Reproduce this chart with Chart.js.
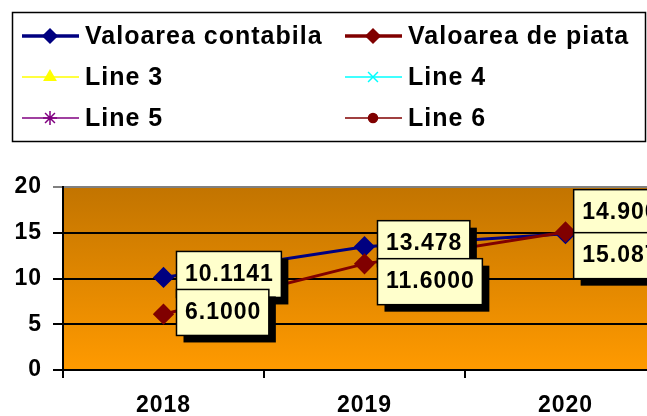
<!DOCTYPE html>
<html>
<head>
<meta charset="utf-8">
<script src="https://cdn.jsdelivr.net/npm/chart.js@4/dist/chart.umd.min.js"></script>
<style>
  html, body { margin: 0; padding: 0; background: #fff; overflow: hidden; }
  #grafico { display: block; }
</style>
</head>
<body>
<canvas id="grafico" width="680" height="416"></canvas>
<script>
// Datos
const anios = ['2018', '2019', '2020'];
const valoareaContabila = [10.1141, 13.478, 14.9];
const valoareaPiata = [6.1, 11.6, 15.087];
const etiquetasContabila = ['10.1141', '13.478', '14.900'];
const etiquetasPiata = ['6.1000', '11.6000', '15.087'];
const ticksY = [0, 5, 10, 15, 20];

const FUENTE = '"Liberation Sans", Arial, sans-serif';

// Espaciado de letras algo mas ancho, como en el original
// (el canvas pierde el estado al redimensionar, por eso se pone antes de medir y de pintar)
const espaciado = {
  id: 'espaciado',
  beforeUpdate(chart) { chart.ctx.letterSpacing = '1px'; },
  beforeDraw(chart) { chart.ctx.letterSpacing = '1px'; }
};

// Fondo degradado del area de trazado
const fondo = {
  id: 'fondo',
  beforeDraw(chart) {
    const { ctx, chartArea: a } = chart;
    const g = ctx.createLinearGradient(0, a.top, 0, a.bottom);
    g.addColorStop(0, '#c27400');
    g.addColorStop(1, '#ff9a00');
    ctx.save();
    ctx.fillStyle = g;
    ctx.fillRect(a.left, a.top, a.right - a.left, a.bottom - a.top);
    ctx.restore();
  }
};

// Leyenda en dos columnas con recuadro
const leyenda = {
  id: 'leyenda',
  afterDraw(chart) {
    const ctx = chart.ctx;
    ctx.save();
    ctx.letterSpacing = '1px';
    ctx.lineWidth = 1.5;
    ctx.strokeStyle = '#000';
    ctx.strokeRect(12.5, 12.5, 633, 129);
    ctx.font = 'bold 25px ' + FUENTE;
    ctx.textBaseline = 'middle';
    chart.data.datasets.forEach((ds, i) => {
      const x0 = i % 2 ? 345 : 22;
      const y = 36 + Math.floor(i / 2) * 41;
      ctx.strokeStyle = ds.borderColor;
      ctx.lineWidth = ds.borderWidth > 2 ? 3.5 : 1.5;
      ctx.beginPath();
      ctx.moveTo(x0, y);
      ctx.lineTo(x0 + 57, y);
      ctx.stroke();
      ctx.fillStyle = ds.backgroundColor;
      ctx.lineWidth = 1.5;
      Chart.helpers.drawPoint(ctx, { pointStyle: ds.pointStyle, radius: ds.radioLeyenda, borderWidth: 1.5 }, x0 + 28, y);
      ctx.fillStyle = '#000';
      ctx.fillText(ds.label, x0 + 63, y + 1);
    });
    ctx.restore();
  }
};

// Etiquetas de datos en cajas amarillas con sombra
const etiquetas = {
  id: 'etiquetas',
  afterDatasetsDraw(chart) {
    const { ctx, chartArea: a } = chart;
    const m0 = chart.getDatasetMeta(0);
    const m1 = chart.getDatasetMeta(1);
    ctx.save();
    ctx.letterSpacing = '1px';
    ctx.font = 'bold 23px ' + FUENTE;
    ctx.textAlign = 'center';
    ctx.textBaseline = 'middle';
    const alto = 46;

    const caja = (texto, x, top) => {
      const w = ctx.measureText(texto).width + 16;
      let left = x + 13;
      let fuera = false;
      if (left + w > a.right) { left = a.right - w; fuera = true; }
      return { texto, left, top, w, fuera };
    };
    const pintar = (c) => {
      ctx.fillStyle = '#000';
      ctx.fillRect(c.left + 7, c.top + 7, c.w, alto);
      ctx.fillStyle = '#ffffcc';
      ctx.fillRect(c.left, c.top, c.w, alto);
      ctx.lineWidth = 1.5;
      ctx.strokeStyle = '#000';
      ctx.strokeRect(c.left, c.top, c.w, alto);
      ctx.fillStyle = '#000';
      ctx.fillText(c.texto, c.left + c.w / 2 + 0.5, c.top + alto / 2);
    };

    anios.forEach((_, i) => {
      const p0 = m0.data[i], p1 = m1.data[i];
      const c0 = caja(etiquetasContabila[i], p0.x, p0.y - 26);
      if (c0.fuera) c0.top = p0.y - 44;
      const c1 = caja(etiquetasPiata[i], p1.x, 0);
      c1.top = Math.max(p1.y - 26, c0.top + (c0.fuera ? 43 : 38));
      pintar(c0);
      pintar(c1);
    });
    ctx.restore();
  }
};

new Chart(document.getElementById('grafico'), {
  type: 'line',
  data: {
    labels: anios,
    datasets: [
      { label: 'Valoarea contabila', data: valoareaContabila, borderColor: '#000080', backgroundColor: '#000080',
        borderWidth: 3, pointStyle: 'rectRot', pointRadius: 8.5, radioLeyenda: 7, order: 2 },
      { label: 'Valoarea de piata', data: valoareaPiata, borderColor: '#800000', backgroundColor: '#800000',
        borderWidth: 3, pointStyle: 'rectRot', pointRadius: 8.5, radioLeyenda: 7, order: 1 },
      { label: 'Line 3', data: [], borderColor: '#ffff00', backgroundColor: '#ffff00', borderWidth: 1.5, pointStyle: 'triangle', radioLeyenda: 6.5 },
      { label: 'Line 4', data: [], borderColor: '#00ffff', backgroundColor: '#00ffff', borderWidth: 1.5, pointStyle: 'crossRot', radioLeyenda: 7 },
      { label: 'Line 5', data: [], borderColor: '#800080', backgroundColor: '#800080', borderWidth: 1.5, pointStyle: 'star', radioLeyenda: 7 },
      { label: 'Line 6', data: [], borderColor: '#800000', backgroundColor: '#800000', borderWidth: 1.5, pointStyle: 'circle', radioLeyenda: 4.5 }
    ]
  },
  options: {
    responsive: false,
    animation: false,
    layout: { padding: { top: 187, right: 14, left: 0, bottom: 0 } },
    plugins: { legend: { display: false }, tooltip: { enabled: false } },
    elements: { line: { tension: 0 } },
    scales: {
      x: {
        offset: true,
        grid: { offset: true, drawOnChartArea: false, color: '#000', lineWidth: 2, tickLength: 8 },
        border: { color: '#000', width: 2 },
        ticks: { color: '#000', font: { family: FUENTE, size: 23, weight: 'bold' }, padding: 14, maxRotation: 0 },
        afterFit(s) { s.height = 46; }
      },
      y: {
        min: 0,
        max: 20,
        afterBuildTicks(s) { s.ticks = ticksY.map(v => ({ value: v })); },
        grid: {
          color: c => (c.tick && c.tick.value === 20 ? '#808080' : '#000'),
          lineWidth: 2,
          tickLength: 10
        },
        border: { color: '#000', width: 2 },
        ticks: { color: '#000', font: { family: FUENTE, size: 23, weight: 'bold' }, padding: 11 },
        afterFit(s) { s.width = 63; }
      }
    }
  },
  plugins: [espaciado, fondo, leyenda, etiquetas]
});
</script>
</body>
</html>
